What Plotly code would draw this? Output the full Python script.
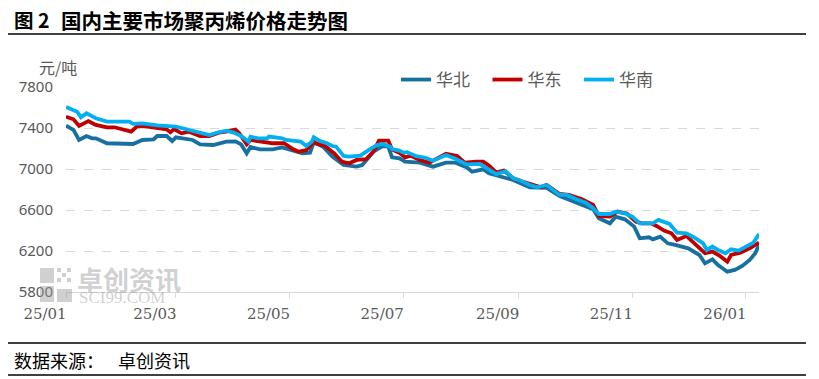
import plotly.graph_objects as go

# ---------------- data ----------------
north_dates = ["2025-01-01","2025-01-05","2025-01-08","2025-01-12","2025-01-15","2025-01-17","2025-01-23","2025-02-06","2025-02-11","2025-02-17","2025-02-19","2025-02-24","2025-02-27","2025-03-01","2025-03-10","2025-03-14","2025-03-21","2025-03-28","2025-04-02","2025-04-05","2025-04-08","2025-04-10","2025-04-15","2025-04-22","2025-04-27","2025-05-03","2025-05-08","2025-05-12","2025-05-14","2025-05-19","2025-05-24","2025-05-30","2025-06-06","2025-06-09","2025-06-15","2025-06-20","2025-06-23","2025-06-25","2025-06-29","2025-07-02","2025-07-10","2025-07-17","2025-07-24","2025-07-29","2025-08-04","2025-08-07","2025-08-13","2025-08-16","2025-08-20","2025-08-29","2025-09-07","2025-09-16","2025-09-23","2025-10-03","2025-10-11","2025-10-14","2025-10-20","2025-10-23","2025-10-28","2025-11-02","2025-11-05","2025-11-10","2025-11-12","2025-11-16","2025-11-20","2025-11-24","2025-12-01","2025-12-07","2025-12-10","2025-12-14","2025-12-17","2025-12-22","2025-12-26","2025-12-30","2026-01-03","2026-01-06","2026-01-08"]
north_vals = [7423,7381,7283,7322,7299,7299,7251,7244,7283,7290,7322,7322,7273,7309,7283,7240,7234,7267,7270,7240,7153,7215,7192,7192,7210,7179,7153,7160,7260,7218,7121,7039,7023,7039,7169,7224,7218,7114,7104,7072,7062,7023,7062,7062,7017,6974,6997,6958,6935,6893,6821,6815,6737,6665,6607,6519,6470,6535,6509,6438,6324,6334,6314,6340,6275,6259,6226,6161,6080,6119,6063,5998,6015,6054,6113,6178,6262]

east_dates = ["2025-01-01","2025-01-05","2025-01-08","2025-01-13","2025-01-17","2025-01-23","2025-01-27","2025-02-05","2025-02-08","2025-02-11","2025-02-24","2025-02-26","2025-02-28","2025-03-04","2025-03-08","2025-03-14","2025-03-19","2025-03-24","2025-03-28","2025-04-02","2025-04-04","2025-04-08","2025-04-10","2025-04-16","2025-04-22","2025-04-28","2025-05-03","2025-05-06","2025-05-10","2025-05-14","2025-05-15","2025-05-20","2025-05-25","2025-05-29","2025-06-02","2025-06-06","2025-06-11","2025-06-15","2025-06-18","2025-06-23","2025-06-25","2025-06-29","2025-07-02","2025-07-05","2025-07-10","2025-07-15","2025-07-24","2025-07-30","2025-08-03","2025-08-09","2025-08-13","2025-08-16","2025-08-20","2025-08-24","2025-08-29","2025-09-03","2025-09-07","2025-09-13","2025-09-16","2025-09-23","2025-09-28","2025-10-05","2025-10-11","2025-10-14","2025-10-20","2025-10-24","2025-10-29","2025-11-03","2025-11-06","2025-11-11","2025-11-14","2025-11-18","2025-11-22","2025-11-25","2025-11-30","2025-12-04","2025-12-10","2025-12-14","2025-12-18","2025-12-22","2025-12-24","2025-12-29","2026-01-03","2026-01-08"]
east_vals = [7510,7485,7420,7468,7430,7407,7407,7364,7413,7420,7387,7358,7390,7348,7364,7322,7320,7354,7364,7385,7350,7240,7283,7267,7251,7251,7192,7169,7185,7267,7251,7224,7153,7072,7056,7088,7095,7169,7276,7276,7190,7159,7114,7130,7088,7062,7150,7127,7062,7072,7072,7035,6965,6984,6909,6877,6854,6821,6844,6756,6747,6704,6649,6542,6535,6584,6565,6486,6470,6470,6444,6399,6373,6308,6347,6275,6178,6194,6152,6096,6161,6184,6226,6282]

south_dates = ["2025-01-01","2025-01-07","2025-01-09","2025-01-12","2025-01-17","2025-01-23","2025-02-04","2025-02-06","2025-02-11","2025-02-19","2025-03-01","2025-03-07","2025-03-14","2025-03-19","2025-03-23","2025-03-28","2025-04-01","2025-04-05","2025-04-09","2025-04-10","2025-04-14","2025-04-19","2025-04-20","2025-04-27","2025-04-29","2025-05-05","2025-05-07","2025-05-10","2025-05-13","2025-05-14","2025-05-17","2025-05-21","2025-05-24","2025-05-26","2025-05-30","2025-06-02","2025-06-08","2025-06-13","2025-06-17","2025-06-20","2025-06-24","2025-06-25","2025-06-29","2025-07-01","2025-07-03","2025-07-08","2025-07-13","2025-07-17","2025-07-24","2025-07-29","2025-08-04","2025-08-11","2025-08-15","2025-08-20","2025-08-25","2025-08-29","2025-09-02","2025-09-07","2025-09-11","2025-09-16","2025-09-23","2025-09-27","2025-10-02","2025-10-07","2025-10-11","2025-10-14","2025-10-20","2025-10-23","2025-10-28","2025-11-01","2025-11-05","2025-11-12","2025-11-15","2025-11-21","2025-11-25","2025-11-30","2025-12-04","2025-12-09","2025-12-11","2025-12-14","2025-12-17","2025-12-21","2025-12-24","2025-12-28","2026-01-01","2026-01-05","2026-01-08"]
south_vals = [7605,7559,7505,7543,7495,7462,7462,7440,7446,7425,7413,7385,7354,7332,7354,7374,7355,7322,7267,7316,7299,7299,7316,7299,7283,7267,7267,7224,7267,7309,7276,7251,7224,7218,7127,7121,7130,7192,7234,7244,7218,7195,7179,7160,7165,7125,7110,7080,7137,7100,7045,7050,7010,6950,6978,6909,6886,6844,6821,6844,6747,6747,6704,6672,6617,6561,6561,6584,6568,6535,6470,6470,6503,6464,6379,6373,6334,6275,6210,6243,6210,6178,6217,6204,6243,6282,6366]

series_names = ["华北", "华东", "华南"]
tick_dates = ["2025-01-01","2025-03-01","2025-05-01","2025-07-01","2025-09-01","2025-11-01","2026-01-01"]
tick_labels = ["25/01","25/03","25/05","25/07","25/09","25/11","26/01"]
y_ticks = [5800, 6200, 6600, 7000, 7400, 7800]

# ---------------- layout geometry ----------------
# the page body has an 8px margin, so the figure is drawn 8px in from the window edge
OFF = 8
W, H = 819 - OFF, 379 - OFF
PLOT_L, PLOT_R, PLOT_T, PLOT_B = 66, 759, 87, 292   # window pixel coords of the plot area
L = PLOT_L - OFF
T = PLOT_T - OFF
R = W - (PLOT_R - OFF)
B = H - (PLOT_B - OFF)
PW, PH = PLOT_R - PLOT_L, PLOT_B - PLOT_T

def px(x):
    return (x - PLOT_L) / PW

def py(y):
    return (PLOT_B - y) / PH

colors = ["#17709F", "#C00000", "#00B0F0"]

fig = go.Figure()
for name, d, v, c in zip(series_names, [north_dates, east_dates, south_dates],
                         [north_vals, east_vals, south_vals], colors):
    fig.add_trace(go.Scatter(x=d, y=v, mode="lines", name=name,
                             line=dict(color=c, width=3.8)))

grey = "#595959"
fig.update_layout(
    width=W, height=H, autosize=False,
    margin=dict(l=L, r=R, t=T, b=B, pad=0),
    paper_bgcolor="white", plot_bgcolor="white",
    showlegend=True,
    legend=dict(orientation="h", x=px(396), y=py(80), xanchor="left", yanchor="middle",
                font=dict(family="Noto Sans CJK SC", size=17, color=grey),
                entrywidth=46.5, bgcolor="rgba(0,0,0,0)", traceorder="normal"),
    xaxis=dict(type="date", range=["2025-01-01", "2026-01-08"],
               tickvals=tick_dates, ticktext=tick_labels,
               ticks="outside", ticklen=5, tickcolor="#D9D9D9", tickwidth=1,
               showgrid=False, zeroline=False,
               showline=True, linecolor="#D9D9D9", linewidth=1.3,
               tickfont=dict(family="DejaVu Serif", size=15, color=grey),
               ticklabelshift=-21, ticklabelstandoff=3),
    yaxis=dict(range=[5800, 7800], tickvals=y_ticks,
               showgrid=True, gridcolor="#D9D9D9", gridwidth=1, griddash="dash",
               zeroline=False, showline=False, ticks="",
               tickfont=dict(family="Noto Sans", size=15, color=grey),
               ticklabelstandoff=12),
)

wmc = "rgba(150,150,150,0.45)"
annotations = [
    dict(text="元/吨", x=px(37), y=py(67), xanchor="left", yanchor="middle",
         font=dict(family="Noto Sans CJK SC", size=16, color=grey)),
    dict(text="<b>图 2</b>", x=px(12), y=py(20), xanchor="left", yanchor="middle",
         font=dict(family="Noto Sans CJK SC", size=19.5, color="black")),
    dict(text="<b>国内主要市场聚丙烯价格走势图</b>", x=px(59), y=py(20), xanchor="left", yanchor="middle",
         font=dict(family="Noto Sans CJK SC", size=20.5, color="black")),
    dict(text="数据来源：", x=px(12), y=py(360), xanchor="left", yanchor="middle",
         font=dict(family="Noto Sans CJK SC", size=18, color="black")),
    dict(text="卓创资讯", x=px(116), y=py(360), xanchor="left", yanchor="middle",
         font=dict(family="Noto Sans CJK SC", size=18, color="black")),
    # watermark
    dict(text="<b>卓创资讯</b>", x=px(75), y=py(278), xanchor="left", yanchor="middle",
         font=dict(family="Noto Sans CJK SC", size=26, color=wmc)),
    dict(text="SCI99.COM", x=px(77), y=py(297), xanchor="left", yanchor="middle",
         font=dict(family="Liberation Serif", size=17, color=wmc)),
]
for a in annotations:
    a.update(xref="paper", yref="paper", showarrow=False)
fig.update_layout(annotations=annotations)

shapes = []
# rules
for yy, w in [(34, 1.5), (343, 1.3), (375, 1.3)]:
    shapes.append(dict(type="line", xref="paper", yref="paper", x0=px(0), x1=px(806),
                       y0=py(yy), y1=py(yy), line=dict(color="black", width=w)))
# watermark logo
for x0, y0, x1, y1 in [(40, 268, 54, 283), (40, 286, 54, 302), (57, 289, 72, 302)]:
    shapes.append(dict(type="rect", xref="paper", yref="paper", x0=px(x0), x1=px(x1),
                       y0=py(y0), y1=py(y1), fillcolor=wmc, line=dict(width=0), layer="above"))
for i in range(3):
    for j in range(3):
        if (i + j) % 2 == 0:
            x0 = 57 + i * 5
            y0 = 268 + j * 5
            shapes.append(dict(type="rect", xref="paper", yref="paper", x0=px(x0), x1=px(x0 + 4),
                               y0=py(y0), y1=py(y0 + 4), fillcolor=wmc, line=dict(width=0), layer="above"))
fig.update_layout(shapes=shapes)

fig.write_html("out.html", config={"displayModeBar": False})
